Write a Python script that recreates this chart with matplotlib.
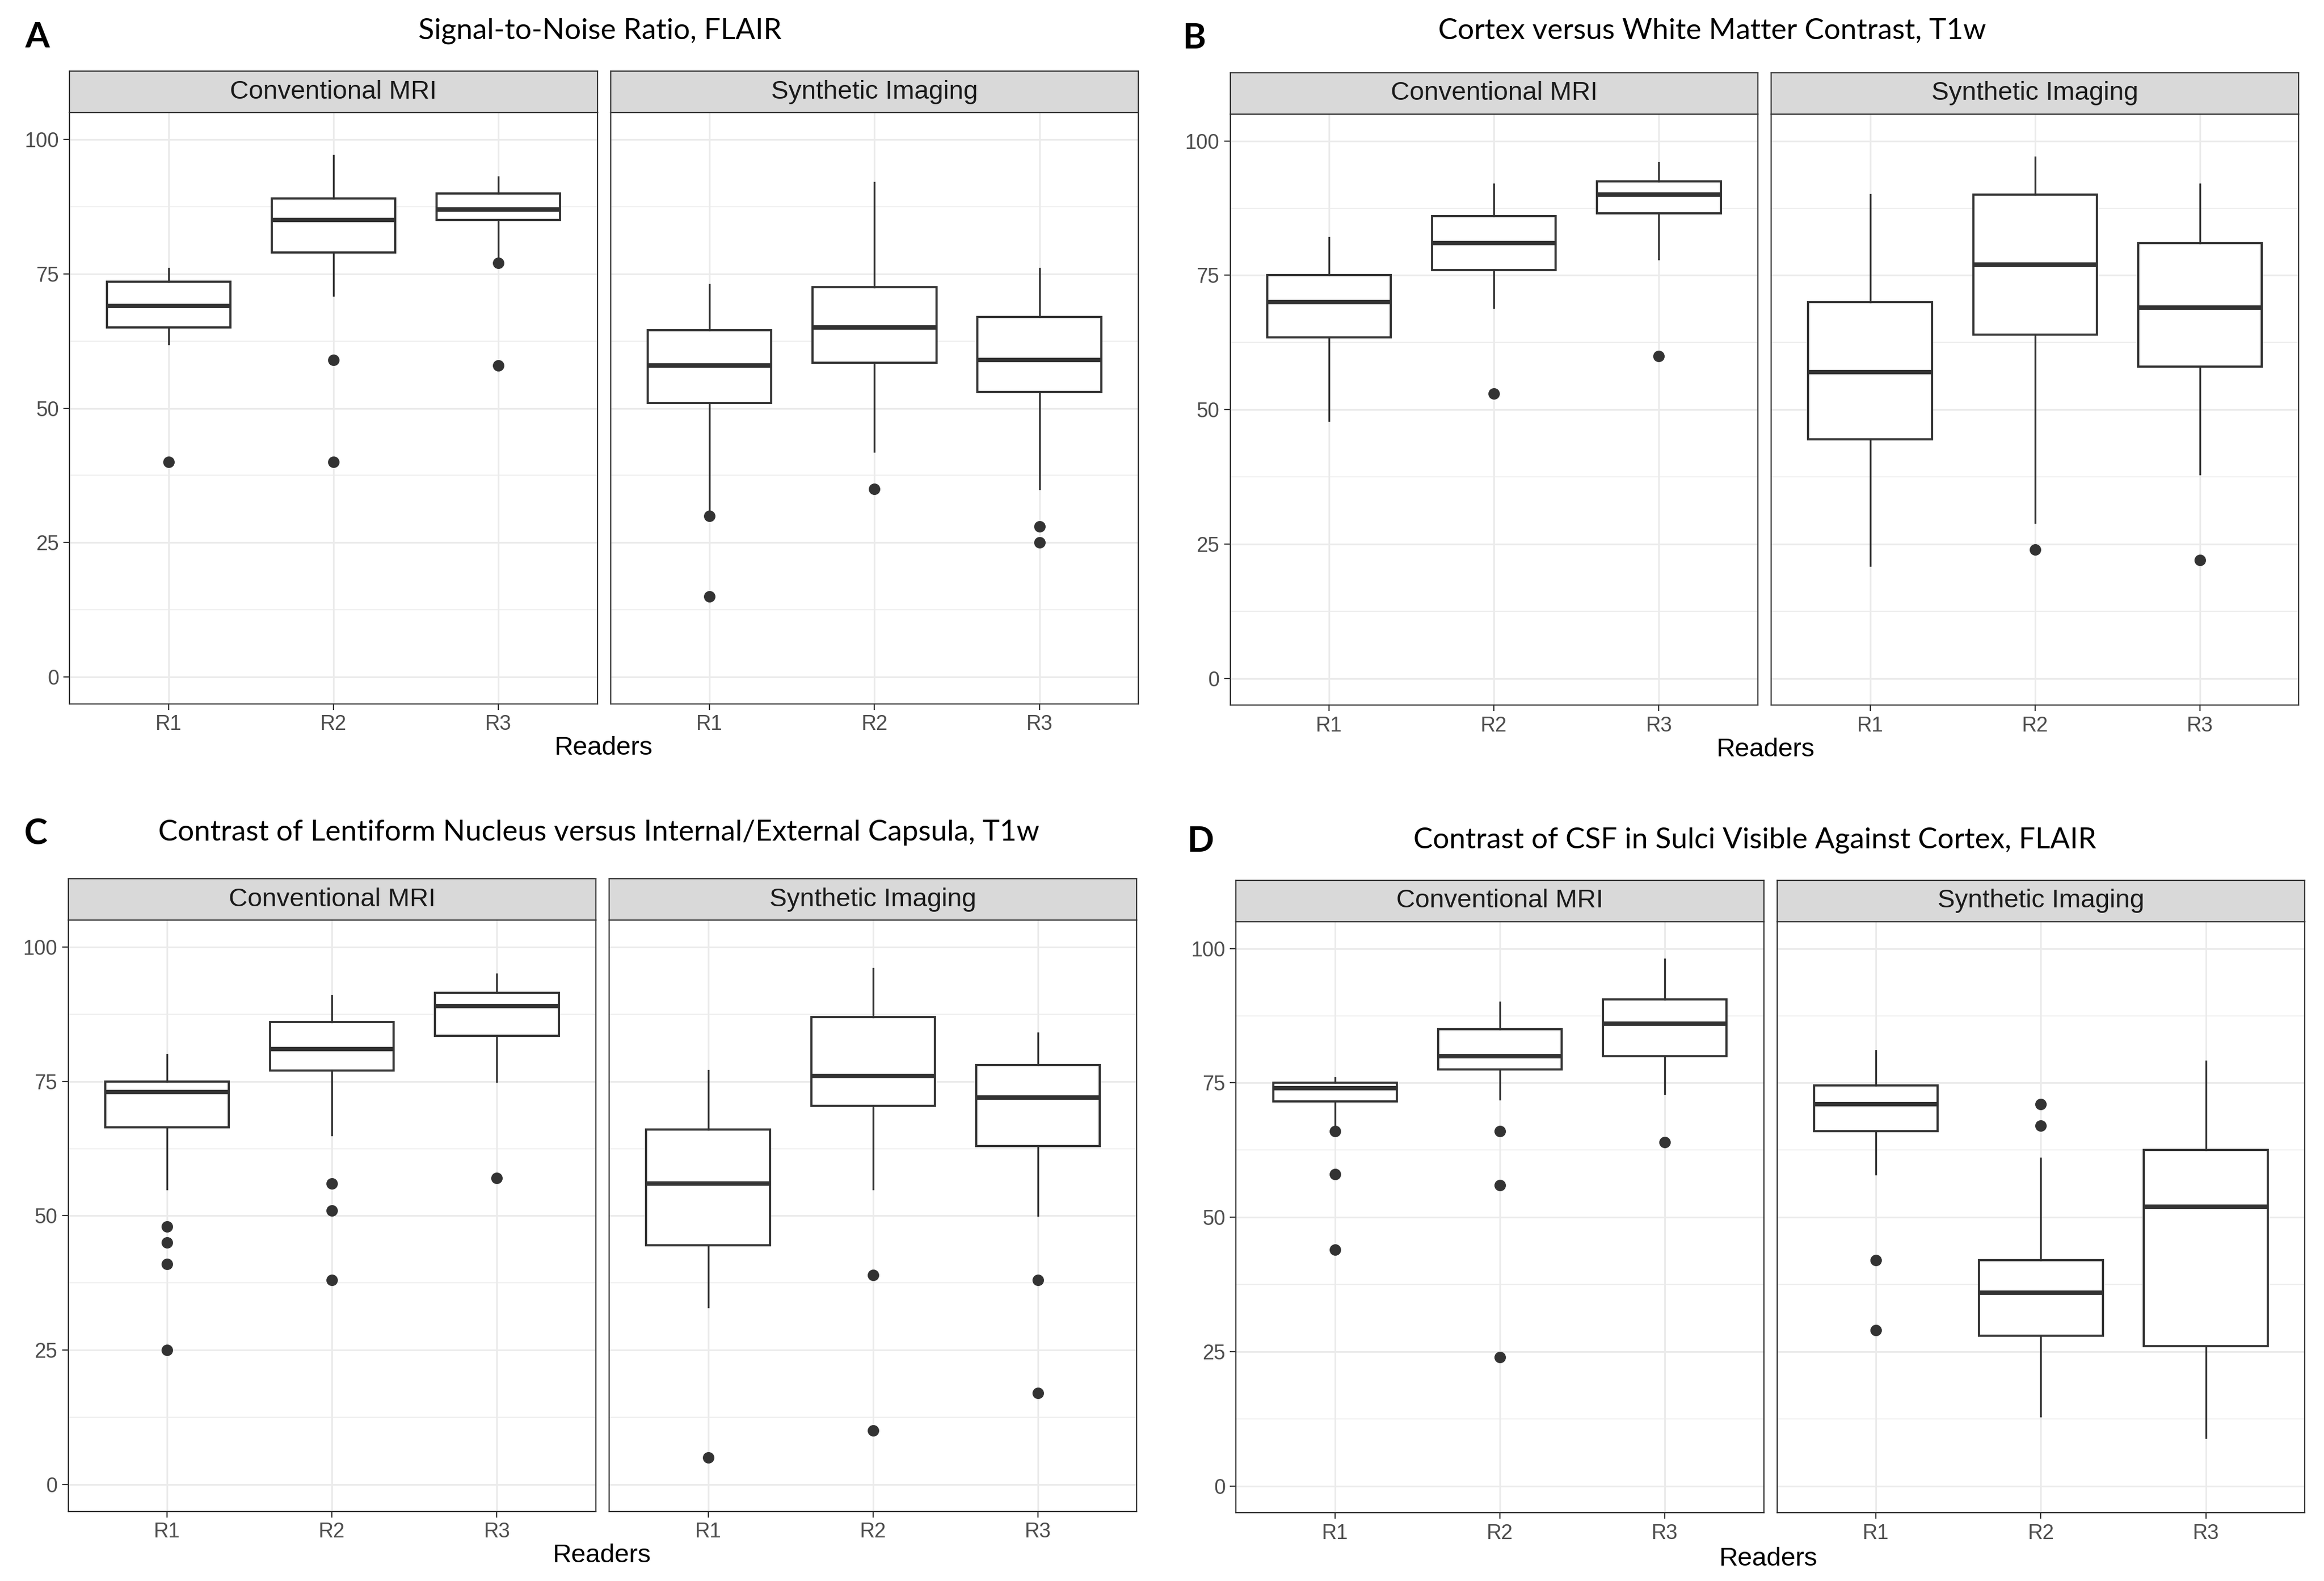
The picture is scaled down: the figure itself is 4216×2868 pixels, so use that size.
import matplotlib.pyplot as plt

plt.rcParams['font.family'] = ['Liberation Sans', 'DejaVu Sans']

# panel titles and labels
letters = ["A", "B", "C", "D"]
titles = ["Signal-to-Noise Ratio, FLAIR",
          "Cortex versus White Matter Contrast, T1w",
          "Contrast of Lentiform Nucleus versus Internal/External Capsula, T1w",
          "Contrast of CSF in Sulci Visible Against Cortex, FLAIR"]
facets = ["Conventional MRI", "Synthetic Imaging"]
readers = ["R1", "R2", "R3"]

# box statistics: [panel][facet][reader]
whisk_lo = [[[62, 71, 78], [31, 42, 35]],
            [[48, 69, 78], [21, 29, 38]],
            [[55, 65, 75], [33, 55, 50]],
            [[67, 72, 73], [58, 13, 9]]]
q1 = [[[65, 79, 85], [51, 58.5, 53]],
      [[63.5, 76, 86.5], [44.5, 64, 58]],
      [[66.5, 77, 83.5], [44.5, 70.5, 63]],
      [[71.5, 77.5, 80], [66, 28, 26]]]
median = [[[69, 85, 87], [58, 65, 59]],
          [[70, 81, 90], [57, 77, 69]],
          [[73, 81, 89], [56, 76, 72]],
          [[74, 80, 86], [71, 36, 52]]]
q3 = [[[73.5, 89, 90], [64.5, 72.5, 67]],
      [[75, 86, 92.5], [70, 90, 81]],
      [[75, 86, 91.5], [66, 87, 78]],
      [[75, 85, 90.5], [74.5, 42, 62.5]]]
whisk_hi = [[[76, 97, 93], [73, 92, 76]],
            [[82, 92, 96], [90, 97, 92]],
            [[80, 91, 95], [77, 96, 84]],
            [[76, 90, 98], [81, 61, 79]]]
outliers = [[[[40], [59, 40], [77, 58]], [[30, 15], [35], [28, 25]]],
            [[[], [53], [60]], [[], [24], [22]]],
            [[[48, 45, 41, 25], [56, 51, 38], [57]], [[5], [39, 10], [38, 17]]],
            [[[66, 58, 44], [66, 56, 24], [64]], [[42, 29], [71, 67], []]]]

# layout measured on a 1568 x 1067 copy of the reference
W, H = 1568.0, 1067.0
panel_left = [47, 830, 46, 834]
panel_top = [76, 77, 621, 622]
facet_w, facet_gap, plot_h, strip_h = 356, 9, 399, 28
title_xy = [(405, 21), (1155, 21), (404, 562), (1184, 567)]
letter_xy = [(25, 25), (806, 26), (24, 563), (810, 568)]
xlab_xy = [(407, 505), (1191, 506), (406, 1050), (1193, 1052)]

dark = "#333333"
grid_col = "#EBEBEB"

fig = plt.figure(figsize=(21.08, 14.34), dpi=200)

for p in range(4):
    for f in range(2):
        x0 = panel_left[p] + f * (facet_w + facet_gap)
        ax = fig.add_axes([x0 / W, 1 - (panel_top[p] + plot_h) / H, facet_w / W, plot_h / H])
        stats = []
        for r in range(3):
            stats.append(dict(med=median[p][f][r], q1=q1[p][f][r], q3=q3[p][f][r],
                              whislo=whisk_lo[p][f][r], whishi=whisk_hi[p][f][r],
                              fliers=outliers[p][f][r]))
        ax.bxp(stats, positions=[1, 2, 3], widths=0.75, showcaps=False, patch_artist=True,
               boxprops=dict(facecolor="white", edgecolor=dark, linewidth=1.4),
               medianprops=dict(color=dark, linewidth=2.9, solid_capstyle="butt"),
               whiskerprops=dict(color=dark, linewidth=1.2),
               flierprops=dict(marker="o", markerfacecolor=dark, markeredgecolor=dark,
                               markersize=6.5))
        ax.set_xlim(0.4, 3.6)
        ax.set_ylim(-5, 105)
        ax.set_xticks([1, 2, 3])
        ax.set_xticklabels(readers)
        ax.set_yticks([0, 25, 50, 75, 100])
        ax.set_yticks([12.5, 37.5, 62.5, 87.5], minor=True)
        ax.grid(which="major", color=grid_col, linewidth=1.1)
        ax.grid(which="minor", axis="y", color=grid_col, linewidth=0.55)
        ax.set_axisbelow(True)
        ax.tick_params(which="minor", length=0)
        ax.tick_params(which="major", length=4, width=0.8, color=dark,
                       labelsize=13.5, labelcolor="#4D4D4D", pad=3)
        if f == 1:
            ax.tick_params(axis="y", left=False, labelleft=False)
        for s in ax.spines.values():
            s.set_color(dark)
            s.set_linewidth(0.8)

        # facet strip
        sx = fig.add_axes([x0 / W, 1 - panel_top[p] / H, facet_w / W, strip_h / H])
        sx.set_facecolor("#D9D9D9")
        sx.set_xticks([])
        sx.set_yticks([])
        for s in sx.spines.values():
            s.set_color(dark)
            s.set_linewidth(0.8)
        sx.text(0.5, 0.5, facets[f], ha="center", va="center", transform=sx.transAxes,
                fontsize=17, color="#1A1A1A")

    fig.text(title_xy[p][0] / W, 1 - title_xy[p][1] / H, titles[p], ha="center", va="center",
             fontsize=19, family=["Lato", "DejaVu Sans"])
    fig.text(letter_xy[p][0] / W, 1 - letter_xy[p][1] / H, letters[p], ha="center", va="center",
             fontsize=23, fontweight="bold", family=["Lato", "DejaVu Sans"])
    fig.text(xlab_xy[p][0] / W, 1 - xlab_xy[p][1] / H, "Readers", ha="center", va="center",
             fontsize=17)

fig.savefig("out.png", dpi=200, facecolor="white")
